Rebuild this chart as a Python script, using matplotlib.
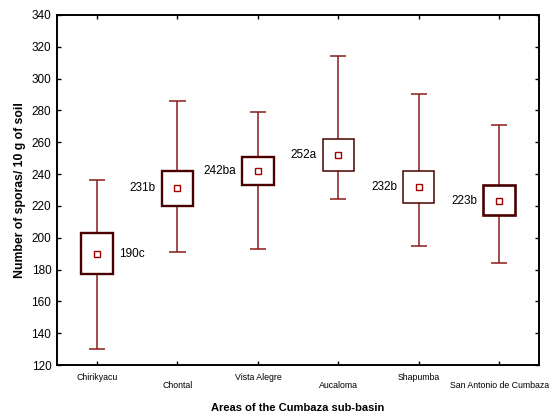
import matplotlib.pyplot as plt
import numpy as np

plt.rcParams['font.family'] = ['Liberation Sans', 'DejaVu Sans']

# zonas de la subcuenca
areas = ['Chirikyacu', 'Chontal', 'Vista Alegre', 'Aucaloma', 'Shapumba',
         'San Antonio de Cumbaza']
mean = [190, 231, 242, 252, 232, 223]
box_low = [177, 220, 233, 242, 222, 214]
box_high = [203, 242, 251, 262, 242, 233]
whisk_low = [130, 191, 193, 224, 195, 184]
whisk_high = [236, 286, 279, 314, 290, 271]
letters = ['190c', '231b', '242ba', '252a', '232b', '223b']

x = np.arange(len(areas))
box_lw = [1.7, 1.7, 1.7, 1.1, 1.1, 1.9]
label_side = [1, -1, -1, -1, -1, -1]

fig = plt.figure(figsize=(5.52, 4.12), dpi=100)
ax = fig.add_axes([0.103, 0.114, 0.874, 0.85])

# bigotes y topes
ax.vlines(x, whisk_low, whisk_high, color='#8b1a1a', lw=1.1, zorder=1)
ax.hlines(whisk_low, x - 0.1, x + 0.1, color='#8b1a1a', lw=1.1, zorder=1)
ax.hlines(whisk_high, x - 0.1, x + 0.1, color='#8b1a1a', lw=1.1, zorder=1)

# cajas
for i in x:
    ax.bar(i, box_high[i] - box_low[i], bottom=box_low[i], width=0.39,
           color='white', edgecolor='#4a0000', linewidth=box_lw[i], zorder=2)

# medias
ax.plot(x, mean, 's', ms=4, mfc='white', mec='#a00000', mew=1.0,
        ls='none', zorder=3)

# letras de significancia
for i in x:
    off = 0.27 * label_side[i]
    ax.text(i + off, mean[i], letters[i], fontsize=8.5,
            ha='left' if label_side[i] > 0 else 'right', va='center')

ax.set_xlim(-0.5, 5.5)
ax.set_ylim(120, 340)
ax.set_yticks(range(120, 341, 20))
ax.set_xticks(x)
ax.set_xticklabels(areas, fontsize=6.3)
for k, lab in enumerate(ax.get_xticklabels()):
    if k % 2 == 1:
        lab.set_y(-0.022)
ax.tick_params(axis='y', labelsize=8.5, pad=4)
ax.tick_params(axis='x', pad=6)
ax.tick_params(direction='in', length=3, width=1, top=True, right=True)
for s in ax.spines.values():
    s.set_linewidth(1.4)

ax.set_xlabel('Areas of the Cumbaza sub-basin', fontsize=8,
              fontweight='bold', labelpad=9)
ax.set_ylabel('Number of sporas/ 10 g of soil', fontsize=8.8,
              fontweight='bold', labelpad=4)

plt.savefig('out.png', dpi=100)
